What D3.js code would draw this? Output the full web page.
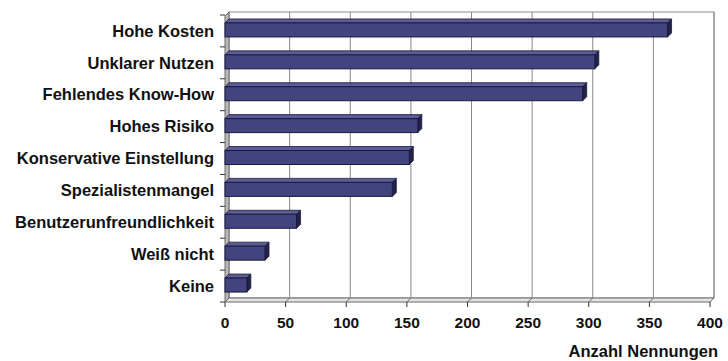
<!DOCTYPE html>
<html>
<head>
<meta charset="utf-8">
<script src="https://cdn.jsdelivr.net/npm/d3@7"></script>
<style>
  body { margin: 0; background: #fff; }
  text { font-family: "Liberation Sans", Arial, sans-serif; font-weight: bold; fill: #111; }
</style>
</head>
<body>
<svg id="chart"></svg>
<script>
// Data
const categories = ["Hohe Kosten", "Unklarer Nutzen", "Fehlendes Know-How", "Hohes Risiko",
  "Konservative Einstellung", "Spezialistenmangel", "Benutzerunfreundlichkeit", "Weiß nicht", "Keine"];
const values = [365, 305, 295, 159, 152, 138, 59, 33, 18];
const xTicks = [0, 50, 100, 150, 200, 250, 300, 350, 400];
const xTitle = "Anzahl Nennungen";

// Dimensions
const width = 728, height = 361;
const depth = { dx: 4, dy: -4 }; // 3D offset front -> back
const frontBottom = 302;

const svg = d3.select("#chart").attr("width", width).attr("height", height);

// Scales (front plane)
const x = d3.scaleLinear().domain([0, 400]).range([225, 710]);
const y = d3.scaleBand().domain(categories).range([14, 301]);

const backTop = 12, backBottom = frontBottom + depth.dy;

// Back wall
svg.append("rect")
  .attr("x", x(0) + depth.dx).attr("y", backTop)
  .attr("width", x(400) - x(0)).attr("height", backBottom - backTop)
  .attr("fill", "#fff").attr("stroke", "#8a8a8a");

// Left side wall
svg.append("polygon")
  .attr("points", [[x(0), backTop - depth.dy], [x(0) + depth.dx, backTop],
    [x(0) + depth.dx, backBottom], [x(0), frontBottom]].join(" "))
  .attr("fill", "#b8b8b8").attr("stroke", "#6a6a6a");

// Floor
svg.append("polygon")
  .attr("points", [[x(0), frontBottom], [x(0) + depth.dx, backBottom],
    [x(400) + depth.dx, backBottom], [x(400), frontBottom]].join(" "))
  .attr("fill", "#e4e4e4").attr("stroke", "#6a6a6a");

// Gridlines on back wall + floor
xTicks.forEach(t => {
  if (t > 0) {
    svg.append("line")
      .attr("x1", x(t) + depth.dx).attr("x2", x(t) + depth.dx)
      .attr("y1", backTop).attr("y2", backBottom)
      .attr("stroke", "#8a8a8a");
  }
  svg.append("line")
    .attr("x1", x(t) + depth.dx).attr("y1", backBottom)
    .attr("x2", x(t)).attr("y2", frontBottom)
    .attr("stroke", "#6a6a6a");
  // tick
  svg.append("line")
    .attr("x1", x(t)).attr("y1", frontBottom)
    .attr("x2", x(t)).attr("y2", frontBottom + 5)
    .attr("stroke", "#333");
});

// Category ticks on the left
const bounds = categories.map(c => y(c)).concat([y.range()[1]]);
svg.selectAll(".ytick").data(bounds).enter().append("line")
  .attr("x1", x(0) - 5).attr("x2", x(0))
  .attr("y1", d => d + 1).attr("y2", d => d + 1)
  .attr("stroke", "#333");

// Bars (3D)
const barH = 14;
const bars = svg.selectAll(".bar").data(categories.map((c, i) => ({ c, v: values[i] })))
  .enter().append("g");

bars.append("polygon") // top face
  .attr("points", d => {
    const y0 = y(d.c) + y.bandwidth() / 2 - barH / 2;
    return [[x(0), y0], [x(0) + depth.dx, y0 + depth.dy],
      [x(d.v) + depth.dx, y0 + depth.dy], [x(d.v), y0]].join(" ");
  })
  .attr("fill", "#5c5c98").attr("stroke", "#1a1a3a").attr("stroke-width", 0.8);

bars.append("polygon") // side face
  .attr("points", d => {
    const y0 = y(d.c) + y.bandwidth() / 2 - barH / 2;
    return [[x(d.v), y0], [x(d.v) + depth.dx, y0 + depth.dy],
      [x(d.v) + depth.dx, y0 + barH + depth.dy], [x(d.v), y0 + barH]].join(" ");
  })
  .attr("fill", "#22224c").attr("stroke", "#1a1a3a").attr("stroke-width", 0.8);

bars.append("rect") // front face
  .attr("x", x(0))
  .attr("y", d => y(d.c) + y.bandwidth() / 2 - barH / 2)
  .attr("width", d => x(d.v) - x(0))
  .attr("height", barH)
  .attr("fill", "#43437f").attr("stroke", "#1a1a3a").attr("stroke-width", 1);

// Category labels
svg.selectAll(".ylabel").data(categories).enter().append("text")
  .attr("x", 214)
  .attr("y", d => y(d) + y.bandwidth() / 2 + 1)
  .attr("dy", "0.35em")
  .attr("text-anchor", "end")
  .style("font-size", "16.5px")
  .text(d => d);

// X tick labels
svg.selectAll(".xlabel").data(xTicks).enter().append("text")
  .attr("x", d => x(d))
  .attr("y", 328)
  .attr("text-anchor", "middle")
  .style("font-size", "15.5px")
  .text(d => d);

// Axis title
svg.append("text")
  .attr("x", 718).attr("y", 357)
  .attr("text-anchor", "end")
  .style("font-size", "16.5px")
  .text(xTitle);
</script>
</body>
</html>
